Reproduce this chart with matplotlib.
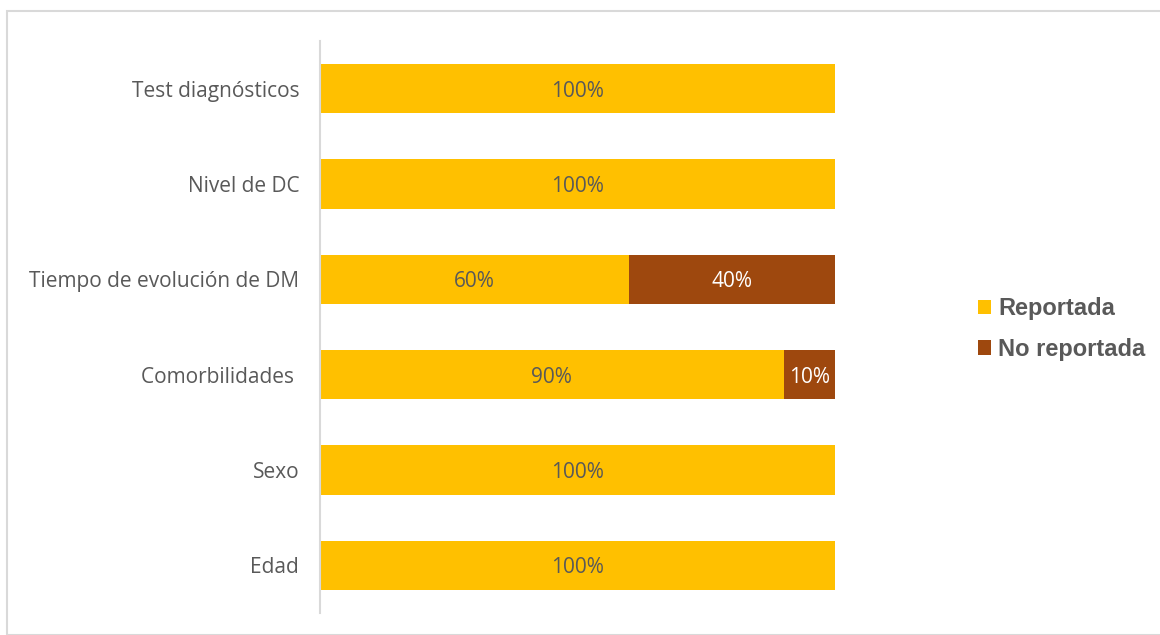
import matplotlib.pyplot as plt
from matplotlib.patches import Rectangle

categories = ['Edad', 'Sexo', 'Comorbilidades ', 'Tiempo de evolución de DM',
              'Nivel de DC', 'Test diagnósticos']
reportada = [100, 100, 90, 60, 100, 100]
no_reportada = [0, 0, 10, 40, 0, 0]

yellow = '#FFC000'
brown = '#9E480E'
gray = '#595959'

fig = plt.figure(figsize=(11.6, 6.35), dpi=100)
fig.patches.append(Rectangle((7 / 1160, 0), 1.2, 1 - 11 / 635, transform=fig.transFigure,
                             fill=False, edgecolor='#D9D9D9', linewidth=1.5))
ax = fig.add_axes([320 / 1160, 22 / 635, 515 / 1160, 572 / 635])

y = range(len(categories))
b1 = ax.barh(y, reportada, height=0.52, color=yellow, label='Reportada')
b2 = ax.barh(y, no_reportada, left=reportada, height=0.52, color=brown, label='No reportada')

for i, v in enumerate(reportada):
    if v > 0:
        ax.text(v / 2, i, f'{v}%', ha='center', va='center_baseline', color=gray,
                fontsize=15, family='Open Sans')
for i, v in enumerate(no_reportada):
    if v > 0:
        ax.text(reportada[i] + v / 2, i, f'{v}%', ha='center', va='center_baseline', color='white',
                fontsize=15, family='Open Sans')

ax.set_xlim(0, 100)
ax.set_ylim(-0.5, len(categories) - 0.5)
ax.set_yticks(list(y))
ax.set_yticklabels(categories, color=gray, fontsize=15, family='Open Sans')
ax.tick_params(axis='y', length=0, pad=15)
ax.set_xticks([])
for s in ['top', 'right', 'bottom']:
    ax.spines[s].set_visible(False)
ax.spines['left'].set_color('#D9D9D9')
ax.spines['left'].set_linewidth(1.5)

fig.legend(handles=[b1, b2], loc='center left', bbox_to_anchor=(957 / 1160, 1 - 329 / 635),
           frameon=False, handlelength=0.55, handleheight=0.55, handletextpad=0.3,
           labelspacing=0.75, prop={'family': 'Liberation Sans', 'weight': 'bold', 'size': 17},
           labelcolor=gray)

fig.savefig('out.png', dpi=100)
